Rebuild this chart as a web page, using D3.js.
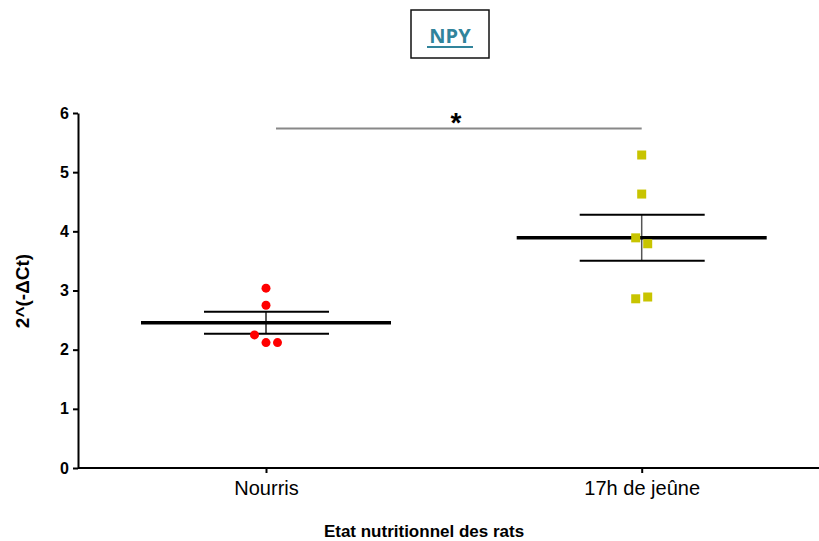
<!DOCTYPE html>
<html>
<head>
<meta charset="utf-8">
<script src="https://cdn.jsdelivr.net/npm/d3@7"></script>
<style>
  body { margin: 0; background: #fff; }
  svg { display: block; font-family: Arial, "Liberation Sans", sans-serif; }
</style>
</head>
<body>
<div id="chartArea"></div>
<script>
// groups and individual points
const groups = ["Nourris", "17h de jeûne"];
const nourrisValues = [3.04, 2.75, 2.25, 2.12, 2.12];
const nourrisOffsets = [0, 0, -1, 0, 1];
const jeuneValues = [5.29, 4.63, 3.89, 3.79, 2.86, 2.89];
const jeuneOffsets = [0, 0, -1, 1, -1, 1];
const groupColors = ["#ff0000", "#c8c400"];
const yTicks = [0, 1, 2, 3, 4, 5, 6];

const width = 819, height = 541;
const margin = { top: 113, right: 0, bottom: 73, left: 78 };

const svg = d3.select("#chartArea").append("svg")
    .attr("width", width)
    .attr("height", height);

const y = d3.scaleLinear().domain([0, 6]).range([height - margin.bottom, margin.top]);
const x = d3.scalePoint().domain(groups).range([266, 641.7]);
const jitter = 11.5;

// title box
const titleG = svg.append("g");
titleG.append("rect")
    .attr("x", 411).attr("y", 10)
    .attr("width", 78).attr("height", 48)
    .attr("fill", "#fff").attr("stroke", "#111").attr("stroke-width", 1.5);
titleG.append("text")
    .attr("x", 450).attr("y", 43)
    .attr("text-anchor", "middle")
    .style("font-family", "'Open Sans', Lato, sans-serif")
    .style("font-size", "20px")
    .style("font-weight", "bold")
    .style("fill", "#31849b")
    .text("NPY");
titleG.append("line")
    .attr("x1", 427).attr("x2", 473)
    .attr("y1", 47).attr("y2", 47)
    .attr("stroke", "#31849b").attr("stroke-width", 2);

// axes
const yAxis = svg.append("g")
    .attr("transform", `translate(${margin.left},0)`)
    .call(d3.axisLeft(y).tickValues(yTicks).tickFormat(d3.format("d"))
        .tickSize(5).tickSizeOuter(0).tickPadding(4));
yAxis.selectAll("text").style("font-size", "16px").style("font-weight", "bold").style("fill", "#000");
yAxis.selectAll("line, path").attr("stroke", "#000").attr("stroke-width", 2);

const xAxis = svg.append("g")
    .attr("transform", `translate(0,${y(0)})`)
    .call(d3.axisBottom(x).tickSize(5).tickSizeOuter(0).tickPadding(8));
xAxis.select(".domain").attr("d", `M${margin.left},0H${width}`);
xAxis.selectAll("text").style("font-size", "20px").style("fill", "#000");
xAxis.selectAll("line, path").attr("stroke", "#000").attr("stroke-width", 2);

// axis titles
svg.append("text")
    .attr("x", 424).attr("y", 537)
    .attr("text-anchor", "middle")
    .style("font-size", "17px").style("font-weight", "bold")
    .text("Etat nutritionnel des rats");
svg.append("text")
    .attr("transform", "translate(29,291) rotate(-90)")
    .attr("text-anchor", "middle")
    .style("font-size", "19px").style("font-weight", "bold")
    .text("2^(-ΔCt)");

// mean and SEM
function stats(v) {
    const m = d3.mean(v);
    const sem = d3.deviation(v) / Math.sqrt(v.length);
    return { m, sem };
}
const sets = [nourrisValues, jeuneValues];
const barColors = ["#222", "#555"];
sets.forEach((v, i) => {
    const s = stats(v);
    const cx = x(groups[i]);
    const g = svg.append("g");
    g.append("line")
        .attr("x1", cx).attr("x2", cx)
        .attr("y1", y(s.m + s.sem)).attr("y2", y(s.m - s.sem))
        .attr("stroke", barColors[i]).attr("stroke-width", 1.5);
    [s.m + s.sem, s.m - s.sem].forEach(val => {
        g.append("line")
            .attr("x1", cx - 62).attr("x2", cx + 63)
            .attr("y1", y(val)).attr("y2", y(val))
            .attr("stroke", "#000").attr("stroke-width", 2);
    });
    g.append("line")
        .attr("x1", cx - 125).attr("x2", cx + 125)
        .attr("y1", y(s.m)).attr("y2", y(s.m))
        .attr("stroke", "#000").attr("stroke-width", 3.5);
});

// points
svg.append("g").selectAll("circle")
    .data(nourrisValues)
    .join("circle")
    .attr("cx", (d, i) => x(groups[0]) + nourrisOffsets[i] * jitter)
    .attr("cy", d => y(d))
    .attr("r", 4.5)
    .attr("fill", groupColors[0]);

svg.append("g").selectAll("rect")
    .data(jeuneValues)
    .join("rect")
    .attr("x", (d, i) => x(groups[1]) + jeuneOffsets[i] * 6 - 4.5)
    .attr("y", d => y(d) - 4.5)
    .attr("width", 9).attr("height", 9)
    .attr("fill", groupColors[1]);

// significance bar
svg.append("line")
    .attr("x1", x(groups[0]) + 10).attr("x2", x(groups[1]))
    .attr("y1", 128.5).attr("y2", 128.5)
    .attr("stroke", "#888").attr("stroke-width", 2);
svg.append("text")
    .attr("x", 456).attr("y", 132)
    .attr("text-anchor", "middle")
    .style("font-size", "28px").style("font-weight", "bold")
    .text("*");
</script>
</body>
</html>
